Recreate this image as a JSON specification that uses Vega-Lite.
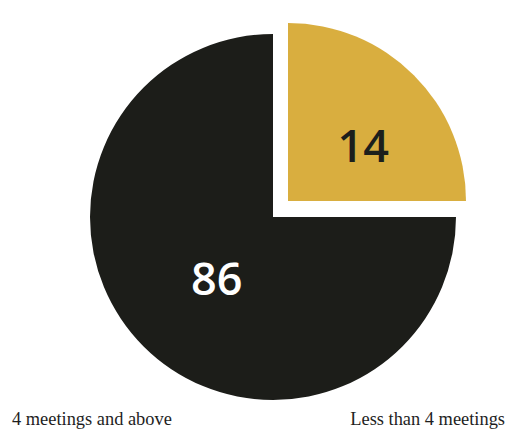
{
  "$schema": "https://vega.github.io/schema/vega-lite/v6.json",
  "width": 512,
  "height": 440,
  "autosize": {"type": "fit", "contains": "padding"},
  "padding": {"left": 12, "right": 7, "top": 0, "bottom": 11},
  "background": "white",
  "config": {"view": {"stroke": null}},
  "data": {
    "values": [
      {"category": "Less than 4 meetings", "value": 14, "share": 25},
      {"category": "4 meetings and above", "value": 86, "share": 75}
    ]
  },
  "layer": [
    {
      "mark": {"type": "arc", "outerRadius": 183, "xOffset": 14.5, "yOffset": 4.5},
      "encoding": {
        "theta": {"field": "share", "type": "quantitative", "stack": true},
        "order": {"field": "share", "type": "quantitative"},
        "color": {"field": "category", "type": "nominal", "scale": {"domain": ["4 meetings and above", "Less than 4 meetings"], "range": ["#1c1d19", "#d9ae3f"]}, "legend": null},
        "opacity": {"condition": {"test": "datum.value == 86", "value": 1}, "value": 0}
      }
    },
    {
      "mark": {"type": "arc", "outerRadius": 178, "xOffset": 29.5, "yOffset": -11.5},
      "encoding": {
        "theta": {"field": "share", "type": "quantitative", "stack": true},
        "order": {"field": "share", "type": "quantitative"},
        "color": {"field": "category", "type": "nominal", "legend": null},
        "opacity": {"condition": {"test": "datum.value == 14", "value": 1}, "value": 0}
      }
    },
    {
      "mark": {"type": "text", "radius": 81, "xOffset": 15.5, "yOffset": 11.5, "font": "Open Sans", "fontWeight": 600, "fontSize": 45, "fill": "#ffffff", "baseline": "middle", "align": "center"},
      "encoding": {
        "theta": {"field": "share", "type": "quantitative", "stack": true},
        "order": {"field": "share", "type": "quantitative"},
        "text": {"field": "value", "type": "quantitative"},
        "opacity": {"condition": {"test": "datum.value == 86", "value": 1}, "value": 0}
      }
    },
    {
      "mark": {"type": "text", "radius": 95, "xOffset": 37.5, "yOffset": 2.5, "font": "Open Sans", "fontWeight": 600, "fontSize": 45, "fill": "#1c1f1c", "baseline": "middle", "align": "center"},
      "encoding": {
        "theta": {"field": "share", "type": "quantitative", "stack": true},
        "order": {"field": "share", "type": "quantitative"},
        "text": {"field": "value", "type": "quantitative"},
        "opacity": {"condition": {"test": "datum.value == 14", "value": 1}, "value": 0}
      }
    },
    {
      "transform": [{"filter": "datum.value == 86"}],
      "mark": {"type": "text", "y": "height", "align": "left", "baseline": "alphabetic", "font": "Liberation Serif", "fontSize": 18.4, "fill": "#1e1e1e"},
      "encoding": {
        "x": {"field": "category", "type": "nominal", "scale": {"type": "point", "domain": ["4 meetings and above", "Less than 4 meetings"], "padding": 0}, "axis": null},
        "text": {"field": "category", "type": "nominal"}
      }
    },
    {
      "transform": [{"filter": "datum.value == 14"}],
      "mark": {"type": "text", "y": "height", "align": "right", "baseline": "alphabetic", "font": "Liberation Serif", "fontSize": 18.4, "fill": "#1e1e1e"},
      "encoding": {
        "x": {"field": "category", "type": "nominal", "axis": null},
        "text": {"field": "category", "type": "nominal"}
      }
    }
  ]
}
